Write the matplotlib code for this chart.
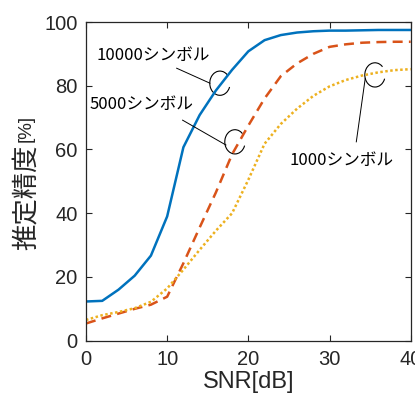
import matplotlib
matplotlib.use("Agg")
import matplotlib.pyplot as plt
from matplotlib.patches import Arc

plt.rcParams['font.family'] = ['Liberation Sans', 'Noto Sans CJK JP', 'DejaVu Sans']

snr = [0, 2, 4, 6, 8, 10, 12, 14, 16, 18, 20, 22, 24, 26, 28, 30, 32, 34, 36, 38, 40]
acc_10000 = [12.3, 12.5, 16.0, 20.4, 26.7, 39.0, 60.7, 70.8, 78.5, 85.0, 90.8, 94.3, 95.9, 96.7, 97.1, 97.3, 97.3, 97.4, 97.5, 97.5, 97.5]
acc_5000 = [5.4, 7.0, 8.5, 10.0, 11.3, 13.8, 24.3, 35.5, 46.5, 58.5, 67.5, 76.0, 83.0, 87.0, 90.0, 92.2, 93.0, 93.5, 93.7, 93.8, 93.8]
acc_1000 = [6.5, 8.0, 9.0, 10.2, 12.2, 16.4, 22.3, 28.5, 34.5, 40.0, 50.5, 61.8, 68.0, 72.8, 76.8, 79.8, 81.8, 83.2, 84.2, 84.9, 85.2]

labels = ['10000シンボル', '5000シンボル', '1000シンボル']
xlabel = 'SNR[dB]'
ylabel_main = '推定精度'
ylabel_unit = '[%]'

fig = plt.figure(figsize=(4.15, 3.98), dpi=100)
ax = fig.add_axes([0.2072, 0.1440, 0.7824, 0.8007])

ax.plot(snr, acc_10000, color='#0072BD', lw=1.8, ls='-')
ax.plot(snr, acc_5000, color='#D95319', lw=1.8, ls=(0, (4, 2.5)))
ax.plot(snr, acc_1000, color='#EDB120', lw=1.8, ls=(0, (1, 1)))

ax.set_xlim(0, 40)
ax.set_ylim(0, 100)
ax.set_xticks([0, 10, 20, 30, 40])
ax.set_yticks([0, 20, 40, 60, 80, 100])
ax.tick_params(direction='in', top=True, right=True, length=4, width=0.8,
               labelsize=14.5, colors='#262626')
ax.tick_params(axis='y', pad=6)
ax.tick_params(axis='x', pad=7)
for s in ax.spines.values():
    s.set_color('#262626')
    s.set_linewidth(0.9)

ax.set_xlabel(xlabel, fontsize=17, color='#262626', labelpad=1)

fig.text(0.064, 0.5038, ylabel_main, rotation=90, fontsize=19, color='#262626',
         family=['Noto Sans CJK JP', 'DejaVu Sans'], ha='center', va='center')
fig.text(0.064, 0.6776, ylabel_unit, rotation=90, fontsize=13.5, color='#262626',
         family=['Liberation Sans', 'DejaVu Sans'], ha='center', va='center')

tfont = dict(fontsize=12, family=['Noto Sans CJK JP', 'DejaVu Sans'], color='black',
             va='center', ha='left')
ax.text(1.35, 89.6, labels[0], **tfont)
ax.text(0.5, 74.0, labels[1], **tfont)
ax.text(25.1, 56.7, labels[2], **tfont)

# leader lines
ax.plot([11.17, 15.27], [85.5, 80.8], color='black', lw=0.7)
ax.plot([11.9, 17.24], [69.2, 61.4], color='black', lw=0.7)
ax.plot([33.3, 34.4], [62.4, 82.3], color='black', lw=0.7)

for (cx, cy) in [(16.5, 80.8), (18.35, 62.4), (35.6, 83.4)]:
    ax.add_patch(Arc((cx, cy), 2.5, 7.6, theta1=70, theta2=315,
                     color='black', lw=0.8))

fig.savefig('out.png', dpi=100)
